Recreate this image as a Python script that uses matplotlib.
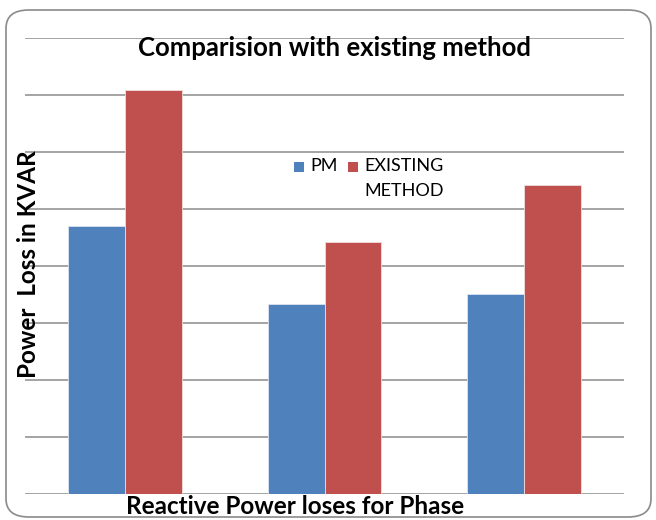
import matplotlib.pyplot as plt
import numpy as np
from matplotlib.patches import FancyBboxPatch, Rectangle

categories = ["Phase A", "Phase B", "Phase C"]
series_names = ["PM", "EXISTING\nMETHOD"]
pm_values = [4.70, 3.33, 3.51]
existing_values = [7.09, 4.42, 5.42]
colors = ["#4F81BD", "#C0504D"]

BAR_WIDTH = 0.285

plt.rcParams['font.family'] = ['Lato', 'DejaVu Sans']


def fx(px):
    return px / 656


def fy(px):
    return 1 - px / 520


def show_fig():
    fig = plt.figure(figsize=(6.56, 5.2), dpi=100)
    ax = fig.add_axes([fx(25), fy(494), 599 / 656, 456 / 520])

    index = np.arange(len(categories))
    ax.bar(index - BAR_WIDTH / 2, pm_values, BAR_WIDTH, color=colors[0],
           edgecolor='#dde3ee', linewidth=0.6, zorder=3)
    ax.bar(index + BAR_WIDTH / 2, existing_values, BAR_WIDTH, color=colors[1],
           edgecolor='#eedddd', linewidth=0.6, zorder=3)

    ax.set_xlim(-0.5, 2.5)
    ax.set_ylim(0, 8)
    ax.set_yticks(np.arange(0, 9))
    ax.yaxis.grid(True, color='#8c8c8c', linewidth=1.1, zorder=0)
    ax.tick_params(left=False, bottom=False, labelleft=False, labelbottom=False)
    for s in ax.spines.values():
        s.set_visible(False)
    ax.set_xticks([])

    fig.text(fx(334), fy(48), "Comparision with existing method",
             ha='center', va='center', fontsize=18.5, fontweight='bold')
    fig.text(fx(28), fy(264), "Power  Loss in KVAR", rotation=90,
             ha='center', va='center', fontsize=17.5, fontweight='bold')
    fig.text(fx(295), fy(507), "Reactive Power loses for Phase",
             ha='center', va='center', fontsize=17.5, fontweight='bold')

    # legend, drawn by hand so the square sits on the first text line
    for x0, c in zip([294, 348], colors):
        fig.patches.append(Rectangle((fx(x0), fy(172)), 10 / 656, 10 / 520,
                                     transform=fig.transFigure, facecolor=c,
                                     edgecolor='none'))
    fig.text(fx(310), fy(166), series_names[0], ha='left', va='center', fontsize=13)
    fig.text(fx(364), fy(166), series_names[1].split("\n")[0], ha='left',
             va='center', fontsize=13)
    fig.text(fx(364), fy(191), series_names[1].split("\n")[1], ha='left',
             va='center', fontsize=13)

    border = FancyBboxPatch((fx(6), 3 / 520), 645 / 656, 507 / 520,
                            boxstyle="round,pad=0,rounding_size=0.035",
                            transform=fig.transFigure, facecolor='none',
                            edgecolor='#8a8a8a', linewidth=1.2)
    fig.patches.append(border)

    fig.savefig("out.png", dpi=100)


def main():
    show_fig()


if __name__ == "__main__":
    main()
